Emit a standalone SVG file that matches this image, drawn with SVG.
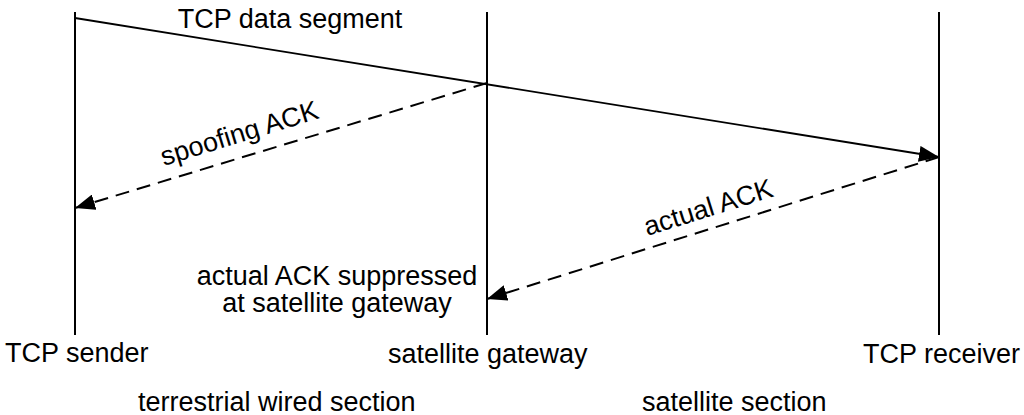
<svg xmlns="http://www.w3.org/2000/svg" width="1024" height="415" viewBox="0 0 1024 415">
<defs>
<style>
text{font-family:"Liberation Sans",Arial,sans-serif;font-size:27px;fill:#000}
.life{stroke:#000;stroke-width:2;fill:none}
.msg{stroke:#000;stroke-width:1.8;fill:none}
.dash{stroke:#000;stroke-width:2;fill:none;stroke-dasharray:14 8}
</style>
<marker id="ah" viewBox="0 0 20 16" refX="20" refY="8" markerWidth="20" markerHeight="16" markerUnits="userSpaceOnUse" orient="auto">
<path d="M0,0 L20,8 L0,16 Z" fill="#000"/>
</marker>
</defs>
<g id="sender">
<line class="life" x1="75" y1="12" x2="75" y2="335"/>
<text x="5" y="362">TCP sender</text>
</g>
<g id="gateway">
<line class="life" x1="487" y1="12" x2="487" y2="335"/>
<text x="388" y="363">satellite gateway</text>
</g>
<g id="receiver">
<line class="life" x1="939" y1="12" x2="939" y2="335"/>
<text x="1020" y="363" text-anchor="end">TCP receiver</text>
</g>
<g id="connectors">
<line class="msg" x1="75" y1="18" x2="939" y2="157" marker-end="url(#ah)"/>
<line class="dash" x1="487" y1="83" x2="75" y2="208" marker-end="url(#ah)"/>
<line class="dash" x1="939" y1="157" x2="487" y2="299" marker-end="url(#ah)"/>
</g>
<g id="labels">
<text x="290" y="28" text-anchor="middle">TCP data segment</text>
<text x="242" y="142" text-anchor="middle" transform="rotate(-17 242 142)">spoofing ACK</text>
<text x="711" y="216" text-anchor="middle" transform="rotate(-17.4 711 216)">actual ACK</text>
<text x="337" y="285" text-anchor="middle">actual ACK suppressed</text>
<text x="337" y="312" text-anchor="middle">at satellite gateway</text>
<text x="138" y="411">terrestrial wired section</text>
<text x="642" y="411">satellite section</text>
</g>
</svg>
